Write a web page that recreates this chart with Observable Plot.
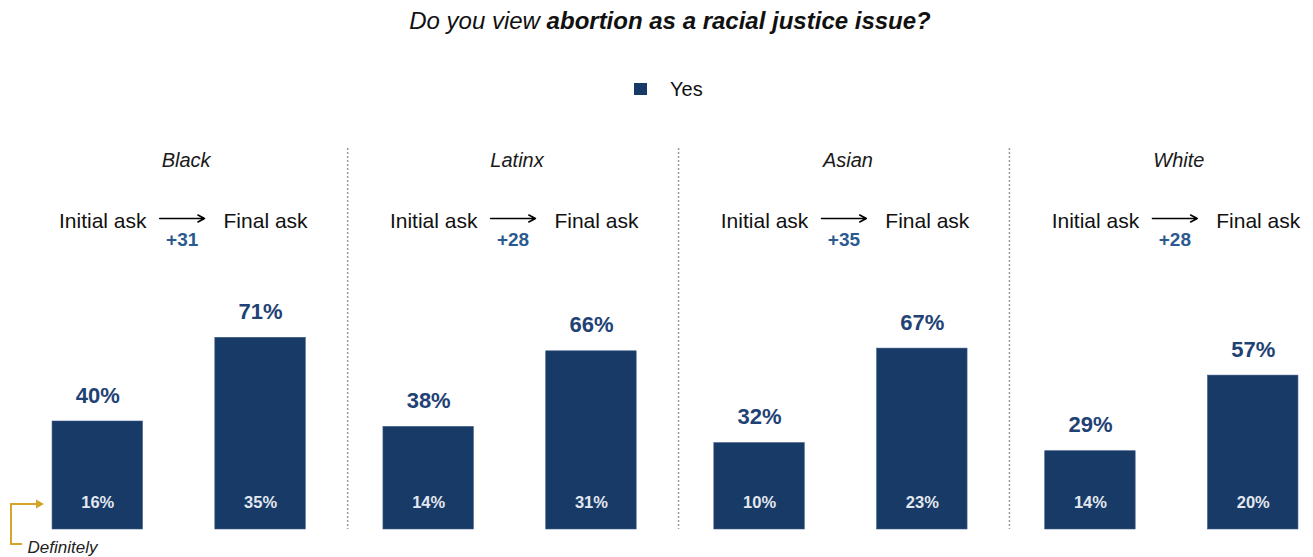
<!DOCTYPE html>
<html>
<head>
<meta charset="utf-8">
<script src="https://cdn.jsdelivr.net/npm/d3@7"></script>
<script src="https://cdn.jsdelivr.net/npm/@observablehq/plot@0.6"></script>
<style>
  html, body { margin: 0; padding: 0; background: #fff; }
  #wrap { position: relative; width: 1313px; height: 557px; overflow: hidden; font-family: "Liberation Sans", Arial, sans-serif; color: #111; }
  #title { position: absolute; top: 9px; left: 670px; transform: translateX(-50%); white-space: nowrap; font-style: italic; font-size: 24px; line-height: 24px; }
  #legend-swatch { position: absolute; left: 634px; top: 83px; width: 13px; height: 12px; background: #173a67; }
  #legend-label { position: absolute; left: 670px; top: 79px; font-size: 20px; line-height: 20px; }
  #chart { position: absolute; left: 0; top: 132px; }
</style>
</head>
<body>
<div id="wrap">
  <div id="title">Do you view <b>abortion as a racial justice issue?</b></div>
  <div id="legend-swatch"></div>
  <div id="legend-label">Yes</div>
  <div id="chart"></div>
</div>
<script>
// ---- data ----
const groups = ["Black", "Latinx", "Asian", "White"];
const asks = ["Initial", "Final"];
const initialYes = [40, 38, 32, 29];
const finalYes = [71, 66, 67, 57];
const initialDefinitely = [16, 14, 10, 14];
const finalDefinitely = [35, 31, 23, 20];
const seriesLabel = "Yes";
const annotationLabel = "Definitely";

// ---- tables built from the arrays ----
const rows = groups.flatMap((g, i) => [
  {group: g, ask: asks[0], yes: initialYes[i], definitely: initialDefinitely[i]},
  {group: g, ask: asks[1], yes: finalYes[i], definitely: finalDefinitely[i]}
]);
const heads = groups.map((g, i) => ({group: g, change: finalYes[i] - initialYes[i]}));

const barColor = "#173a67";
const font = "Liberation Sans, Arial, sans-serif";

const chart = Plot.plot({
  width: 1313,
  height: 425,
  marginTop: 127,
  marginBottom: 28,
  marginLeft: 43,
  marginRight: 6,
  style: {fontFamily: font, background: "transparent", overflow: "visible"},
  fx: {domain: groups, paddingInner: 0.18, paddingOuter: 0, axis: null, round: false},
  x: {domain: asks, paddingInner: 0.4444, paddingOuter: 0.0556, axis: null, round: false},
  y: {domain: [0, 100], axis: null},
  marks: [
    Plot.ruleX(groups.slice(1), {
      fx: d => d, x: () => asks[0], dx: -81, insetTop: -111,
      stroke: "#9a9a9a", strokeWidth: 1.5, strokeDasharray: "2,2"
    }),
    Plot.barY(rows, {fx: "group", x: "ask", y: "yes", fill: barColor, stroke: "#3d5a85", strokeWidth: 0.6}),
    Plot.text(rows, {
      fx: "group", x: "ask", y: "yes", text: d => d.yes + "%",
      dy: -26, fontSize: 22, fontWeight: "bold", fill: "#1f4275"
    }),
    Plot.text(rows, {
      fx: "group", x: "ask", frameAnchor: "bottom", lineAnchor: "middle", text: d => d.definitely + "%",
      dy: -27, fontSize: 16.5, fontWeight: "bold", fill: "#e3e8ef"
    }),
    Plot.text(heads, {
      fx: "group", frameAnchor: "top", lineAnchor: "middle", text: "group",
      dy: -99, dx: 7, fontSize: 20, fontStyle: "italic", fill: "#1a1a1a"
    }),
    Plot.text(rows, {
      fx: "group", x: "ask", frameAnchor: "top", lineAnchor: "middle", text: d => d.ask + " ask",
      dy: -38, dx: 5, fontSize: 21, fill: "#111"
    }),
    Plot.arrow(heads, {
      fx: "group", x1: () => asks[0], x2: () => asks[1], y1: () => 0, y2: () => 0,
      dy: -311, dx: 3, insetStart: 59, insetEnd: 59,
      stroke: "#000", strokeWidth: 1.6, headLength: 7, headAngle: 55
    }),
    Plot.text(heads, {
      fx: "group", frameAnchor: "top", lineAnchor: "middle", text: d => "+" + d.change,
      dy: -20, dx: 3, fontSize: 19, fontWeight: "bold", fill: "#2b5a91"
    }),
    Plot.text([annotationLabel], {
      fx: () => groups[0], frameAnchor: "bottom-left", lineAnchor: "middle", text: d => d,
      dx: -16, dy: 18, textAnchor: "start", fontSize: 17, fontStyle: "italic", fill: "#222"
    })
  ]
});

document.getElementById("chart").append(chart);

// gold bracket pointing at the "Definitely" labels
const svg = d3.select(chart);
const gold = "#d4a52a";
svg.append("path")
  .attr("d", "M38,372 H11 V412 H22")
  .attr("fill", "none").attr("stroke", gold).attr("stroke-width", 2);
svg.append("path")
  .attr("d", "M44,372 L36,367.5 L36,376.5 Z")
  .attr("fill", gold);
</script>
</body>
</html>
